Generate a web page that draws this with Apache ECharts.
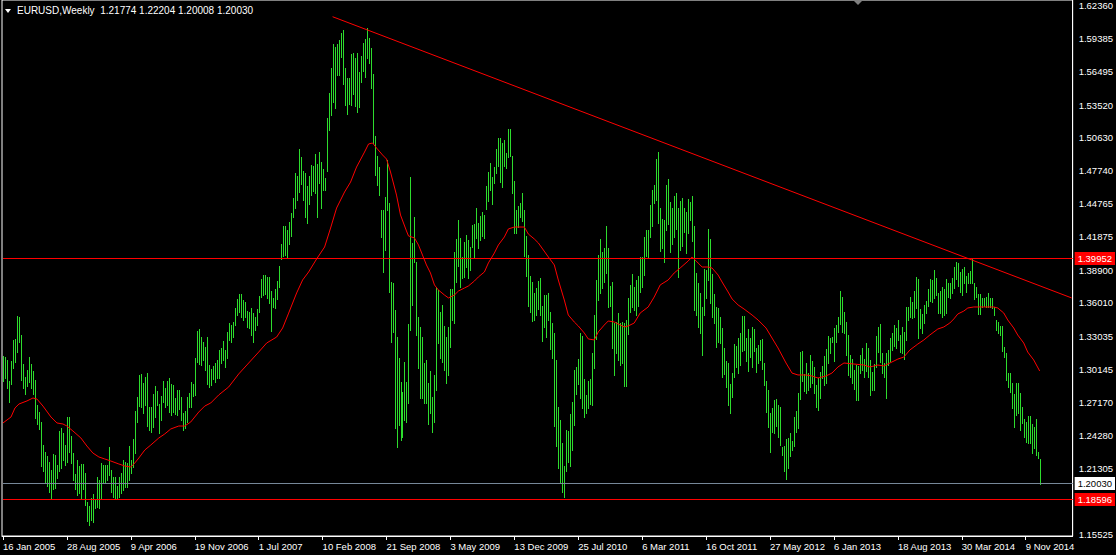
<!DOCTYPE html>
<html>
<head>
<meta charset="utf-8">
<script src="https://cdn.jsdelivr.net/npm/echarts@6/dist/echarts.min.js"></script>
<style>
html,body{margin:0;padding:0;background:#000;}
#c{width:1116px;height:555px;}
</style>
</head>
<body>
<div id="c"></div>
<script>
// ---- data (weekly EURUSD bars, index 0 = week of 16 Jan 2005) ----
const highs = [
1.3130,1.3121,1.3095,1.2909,1.3086,1.3272,1.3280,1.3484,1.3475,1.3316,
1.3059,1.2944,1.3006,1.3121,1.3059,1.2997,1.2917,1.2696,1.2634,1.2546,
1.2342,1.2280,1.2245,1.2191,1.2121,1.2262,1.2253,1.2165,1.2466,1.2493,
1.2448,1.2342,1.2590,1.2590,1.2422,1.2271,1.2085,1.2209,1.2156,1.2174,
1.2174,1.2094,1.1837,1.1802,1.1873,1.1908,1.1864,1.2059,1.2032,1.2183,
1.2165,1.2165,1.2165,1.2324,
1.2121,1.2059,1.2059,1.1979,1.2059,1.2094,1.2209,1.2191,1.2183,1.2333,
1.2209,1.2395,1.2643,1.2767,1.2962,1.2970,1.2891,1.2944,1.2979,1.2678,
1.2678,1.2794,1.2864,1.2820,1.2705,1.2776,1.2909,1.2847,1.2909,1.2935,
1.2882,1.2873,1.2758,1.2829,1.2829,1.2767,1.2625,1.2643,1.2767,1.2802,
1.2900,1.2882,1.3112,1.3351,1.3369,1.3298,1.3254,1.3210,1.3298,1.3050,
1.3015,1.3042,
1.3068,1.3095,1.3183,1.3201,1.3263,1.3183,1.3343,1.3422,1.3404,1.3431,
1.3555,1.3635,1.3679,1.3679,1.3626,1.3608,1.3528,1.3519,1.3555,1.3510,
1.3475,1.3546,1.3661,1.3812,1.3847,1.3847,1.3830,1.3830,1.3705,1.3644,
1.3723,1.3794,1.3927,1.4122,1.4281,1.4281,1.4246,1.4316,1.4396,1.4529,
1.4750,1.4724,1.4963,1.4892,1.4768,1.4750,1.4635,1.4724,1.4821,1.4812,
1.4918,1.4830,1.4936,
1.4848,1.4786,1.4706,1.5237,1.5459,1.5680,1.5892,1.5866,1.5892,1.5928,
1.5990,1.6016,1.5680,1.5591,1.5591,1.5804,1.5813,1.5769,1.5813,1.5645,
1.5786,1.5901,1.5937,1.6034,1.5946,1.5857,1.5627,1.5078,1.4901,1.4803,
1.4423,1.4423,1.4538,1.4865,1.4485,1.3785,1.3776,1.3537,1.3298,1.3112,
1.2900,1.2811,1.3077,1.2900,1.3413,1.4715,1.4130,1.4361,1.3962,1.3475,
1.3387,1.3298,1.3068,1.3095,
1.2891,1.2997,1.2767,1.2962,1.3741,1.3714,1.3519,1.3582,1.3396,1.3298,
1.3387,1.3723,1.3723,1.4051,1.4166,1.4334,1.4175,1.4007,1.4140,1.4202,
1.4157,1.4095,1.4290,1.4299,1.4440,1.4308,1.4370,1.4405,1.4379,1.4635,
1.4759,1.4839,1.4715,1.4803,1.4963,1.5060,1.5060,1.5016,1.5042,1.4927,
1.5140,1.5140,1.4901,1.4679,1.4423,1.4458,1.4485,1.4573,1.4423,1.4193,
1.4024,1.3838,1.3785,
1.3688,1.3732,1.3794,1.3821,1.3573,1.3670,1.3670,1.3688,1.3519,1.3422,
1.3334,1.3095,1.2678,1.2563,1.2360,1.2156,1.2475,1.2466,1.2616,1.2723,
1.3006,1.3033,1.3103,1.3334,1.3307,1.2926,1.2785,1.2909,1.2926,1.3157,
1.3493,1.3803,1.4024,1.4166,1.4051,1.4087,1.4281,1.4087,1.3750,1.3785,
1.3422,1.3431,1.3510,1.3422,1.3431,1.3422,1.3449,1.3644,1.3758,1.3856,
1.3741,1.3803,1.3838,
1.4007,1.4007,1.4184,1.4246,1.4246,1.4467,1.4600,1.4644,1.4874,1.4936,
1.4440,1.4343,1.4334,1.4644,1.4697,1.4493,1.4440,1.4547,1.4573,1.4440,
1.4502,1.4529,1.4440,1.4405,1.4520,1.4493,1.4547,1.4281,1.3865,1.3776,
1.3688,1.3564,1.3900,1.3891,1.4255,1.4166,1.3856,1.3679,1.3564,1.3555,
1.3475,1.3378,1.3201,1.3086,1.3068,1.2882,1.2979,1.3236,1.3219,1.3289,
1.3334,1.3484,
1.3484,1.3289,1.3369,1.3289,1.3387,1.3369,1.3201,1.3227,1.3272,1.3280,
1.3068,1.2909,1.2829,1.2625,1.2670,1.2740,1.2749,1.2696,1.2678,1.2324,
1.2333,1.2395,1.2404,1.2448,1.2378,1.2590,1.2643,1.2802,1.3165,1.3174,
1.2970,1.3068,1.2979,1.3139,1.3086,1.3033,1.2873,1.2935,1.2988,1.3042,
1.3130,1.3192,1.3307,1.3289,1.3298,1.3378,1.3404,1.3475,1.3705,1.3652,
1.3519,1.3431,1.3316,
1.3139,1.3103,1.3006,1.3050,1.3042,1.3139,1.3201,1.3103,1.3245,1.3201,
1.3095,1.2988,1.3059,1.3307,1.3387,1.3413,1.3157,1.3068,1.3157,1.3183,
1.3289,1.3334,1.3404,1.3378,1.3449,1.3316,1.3387,1.3343,1.3564,1.3564,
1.3653,1.3608,1.3705,1.3830,1.3812,1.3546,1.3502,1.3582,1.3617,1.3723,
1.3812,1.3803,1.3891,1.3821,1.3688,1.3705,1.3741,1.3723,1.3812,1.3776,
1.3776,1.3821,
1.3918,1.3962,1.3954,1.3874,1.3900,1.3918,1.3838,1.3865,1.3883,1.3993,
1.3776,1.3741,1.3679,1.3679,1.3644,1.3644,1.3653,1.3688,1.3644,1.3644,
1.3564,1.3449,1.3431,1.3396,1.3396,1.3210,1.3157,1.2979,1.2979,1.2891,
1.2794,1.2891,1.2891,1.2802,1.2678,1.2572,1.2546,1.2599,1.2599,1.2528,
1.2501,1.2572,1.2280,1.22204
];
const lows = [
1.2909,1.2935,1.2847,1.2723,1.2882,1.3024,1.3077,1.3165,1.3254,1.2917,
1.2847,1.2794,1.2864,1.2900,1.2847,1.2794,1.2581,1.2528,1.2484,1.2156,
1.2112,1.2006,1.1979,1.1926,1.1864,1.1952,1.1961,1.2050,1.2112,1.2138,
1.2209,1.2165,1.2191,1.2280,1.2183,1.2032,1.1952,1.1899,1.1917,1.1864,
1.1952,1.1811,1.1669,1.1634,1.1678,1.1660,1.1784,1.1793,1.1784,1.1864,
1.2015,1.2006,1.2032,1.2076,
1.1926,1.1882,1.1864,1.1864,1.1882,1.1917,1.1944,1.1970,1.1970,1.2032,
1.2094,1.2147,1.2271,1.2546,1.2687,1.2678,1.2625,1.2696,1.2510,1.2475,
1.2458,1.2501,1.2590,1.2696,1.2448,1.2563,1.2723,1.2678,1.2696,1.2634,
1.2607,1.2634,1.2616,1.2607,1.2660,1.2563,1.2475,1.2493,1.2546,1.2678,
1.2678,1.2776,1.2785,1.3077,1.3059,1.3050,1.3095,1.3006,1.2882,1.2856,
1.2873,1.2926,
1.2900,1.2935,1.2935,1.3068,1.3095,1.3033,1.3112,1.3272,1.3254,1.3298,
1.3404,1.3493,1.3519,1.3475,1.3449,1.3475,1.3387,1.3378,1.3316,1.3254,
1.3360,1.3404,1.3519,1.3653,1.3670,1.3679,1.3644,1.3599,1.3351,1.3564,
1.3555,1.3635,1.3741,1.3989,1.4015,1.4024,1.4007,1.4122,1.4193,1.4361,
1.4440,1.4511,1.4582,1.4653,1.4511,1.4361,1.4308,1.4476,1.4555,1.4591,
1.4573,1.4361,1.4662,
1.4440,1.4600,1.4600,1.4768,1.5131,1.5264,1.5379,1.5326,1.5618,1.5618,
1.5777,1.5538,1.5352,1.5273,1.5361,1.5352,1.5450,1.5344,1.5290,1.5335,
1.5556,1.5653,1.5600,1.5768,1.5724,1.5503,1.5016,1.4733,1.4644,1.4555,
1.4184,1.3874,1.4069,1.4423,1.3697,1.3254,1.3343,1.2493,1.2324,1.2519,
1.2386,1.2413,1.2563,1.2546,1.2714,1.3360,1.3581,1.3962,1.3316,1.3024,
1.2758,1.2758,1.2714,1.2714,
1.2528,1.2625,1.2458,1.2546,1.2829,1.3245,1.3112,1.3077,1.3006,1.2891,
1.2962,1.3210,1.3449,1.3422,1.3785,1.3927,1.3741,1.3821,1.3830,1.3918,
1.3821,1.3891,1.4095,1.3998,1.4175,1.4087,1.4157,1.4193,1.4175,1.4432,
1.4502,1.4600,1.4476,1.4662,1.4750,1.4812,1.4670,1.4626,1.4812,1.4795,
1.4892,1.4901,1.4573,1.4219,1.4219,1.4272,1.4361,1.4325,1.4015,1.3838,
1.3573,1.3519,1.3440,
1.3449,1.3493,1.3546,1.3493,1.3263,1.3387,1.3298,1.3449,1.3192,1.3112,
1.2510,1.2333,1.2138,1.2015,1.1926,1.1882,1.2112,1.2191,1.2156,1.2298,
1.2519,1.2794,1.2882,1.2758,1.2670,1.2590,1.2625,1.2670,1.2705,1.2696,
1.3024,1.3280,1.3626,1.3688,1.3732,1.3785,1.3865,1.3564,1.3573,1.3201,
1.2962,1.3157,1.3095,1.3050,1.3068,1.2864,1.2864,1.3325,1.3519,1.3564,
1.3537,1.3493,1.3573,
1.3697,1.3741,1.3847,1.4015,1.4007,1.4184,1.4281,1.4485,1.4511,1.4308,
1.4060,1.4087,1.3962,1.4246,1.4299,1.4051,1.4122,1.4184,1.4255,1.3830,
1.4069,1.4104,1.4228,1.4042,1.4219,1.4334,1.4148,1.3537,1.3493,1.3387,
1.3334,1.3139,1.3493,1.3643,1.3803,1.3599,1.3475,1.3422,1.3210,1.3254,
1.3245,1.2944,1.2970,1.2856,1.2696,1.2625,1.2767,1.2944,1.3033,1.2979,
1.3050,1.3174,
1.3183,1.3086,1.2997,1.3121,1.3033,1.3174,1.2988,1.3068,1.3095,1.3015,
1.2873,1.2634,1.2501,1.2280,1.2458,1.2448,1.2510,1.2413,1.2342,1.2253,
1.2112,1.2041,1.2138,1.2245,1.2298,1.2333,1.2458,1.2493,1.2749,1.2909,
1.2820,1.2802,1.2829,1.2856,1.2891,1.2802,1.2678,1.2652,1.2758,1.2935,
1.2873,1.2891,1.3068,1.3157,1.3254,1.3086,1.3254,1.3343,1.3413,1.3343,
1.3334,1.3139,1.2962,
1.2944,1.2891,1.2838,1.2740,1.2740,1.2979,1.3006,1.2944,1.2997,1.2944,
1.2785,1.2829,1.2829,1.3033,1.3165,1.3077,1.2979,1.2944,1.2758,1.3050,
1.3086,1.3183,1.3219,1.3201,1.3272,1.3165,1.3157,1.3103,1.3272,1.3449,
1.3475,1.3466,1.3475,1.3555,1.3289,1.3378,1.3334,1.3422,1.3510,1.3573,
1.3617,1.3608,1.3644,1.3670,1.3510,1.3510,1.3475,1.3493,1.3510,1.3653,
1.3644,1.3688,
1.3732,1.3812,1.3750,1.3697,1.3670,1.3776,1.3697,1.3776,1.3776,1.3776,
1.3635,1.3653,1.3502,1.3502,1.3564,1.3573,1.3564,1.3564,1.3564,1.3555,
1.3493,1.3360,1.3334,1.3316,1.3174,1.3121,1.2917,1.2856,1.2811,1.2670,
1.2501,1.2607,1.2625,1.2475,1.2537,1.2413,1.2368,1.2360,1.2360,1.2271,
1.2316,1.2253,1.2227,1.20008
];
// moving average read at sampled bars
const maBars = [0,4,6,8,12,15,17,20,24,27,30,32,35,39,42,45,48,51,54,58,61,64,66,68,71,74,78,81,84,88,91,94,98,101,104,108,113,118,123,128,132,137,140,143,147,150,153,157,161,164,167,171,174,177,181,183,185,187,190,192,194,197,199,202,203,206,208,210,212,214,216,218,221,223,226,228,231,233,236,238,241,243,246,248,251,253,256,258,261,263,266,268,273,276,278,281,283,286,288,291,293,296,298,301,303,306,308,311,313,316,319,323,326,329,333,336,339,343,345,348,350,353,355,358,360,363,365,368,371,375,378,382,385,388,392,395,398,402,405,408,412,415,418,421,426,431,434,438,441,444,448,451,454,458,461,464,468,471,474,476,478,481,483,486,491,496,498,501,503,506,508,511,513,516,519];
const maValues = [1.2537,1.2590,1.2670,1.2705,1.2732,1.2758,1.2749,1.2687,1.2590,1.2537,1.2528,1.2510,1.2466,1.2404,1.2333,1.2271,1.2236,1.2218,1.2200,1.2174,1.2156,1.2147,1.2183,1.2227,1.2298,1.2342,1.2404,1.2440,1.2484,1.2510,1.2510,1.2546,1.2634,1.2687,1.2714,1.2785,1.2856,1.2971,1.3068,1.3165,1.3245,1.3298,1.3378,1.3510,1.3688,1.3803,1.3874,1.3989,1.4095,1.4263,1.4440,1.4582,1.4670,1.4803,1.4936,1.5007,1.5016,1.4972,1.4910,1.4874,1.4759,1.4555,1.4378,1.4237,1.4193,1.4175,1.4113,1.4024,1.3936,1.3865,1.3759,1.3714,1.3670,1.3644,1.3670,1.3705,1.3732,1.3750,1.3794,1.3830,1.3874,1.3954,1.4042,1.4113,1.4184,1.4255,1.4272,1.4272,1.4272,1.4210,1.4166,1.4131,1.4007,1.3936,1.3803,1.3626,1.3493,1.3431,1.3396,1.3334,1.3281,1.3272,1.3343,1.3404,1.3440,1.3431,1.3413,1.3387,1.3396,1.3422,1.3511,1.3564,1.3652,1.3759,1.3803,1.3865,1.3909,1.3971,1.4007,1.3953,1.3918,1.3918,1.3909,1.3847,1.3785,1.3697,1.3635,1.3582,1.3546,1.3493,1.3449,1.3378,1.3289,1.3201,1.3068,1.2979,1.2962,1.2962,1.2953,1.2935,1.2953,1.2979,1.3033,1.3068,1.3059,1.3050,1.3033,1.3050,1.3042,1.3068,1.3103,1.3121,1.3183,1.3236,1.3272,1.3316,1.3369,1.3387,1.3422,1.3458,1.3502,1.3528,1.3555,1.3564,1.3564,1.3564,1.3555,1.3511,1.3449,1.3378,1.3316,1.3245,1.3165,1.3095,1.2997];
const dateLabels = ["16 Jan 2005","28 Aug 2005","9 Apr 2006","19 Nov 2006","1 Jul 2007","10 Feb 2008","21 Sep 2008","3 May 2009","13 Dec 2009","25 Jul 2010","6 Mar 2011","16 Oct 2011","27 May 2012","6 Jan 2013","18 Aug 2013","30 Mar 2014","9 Nov 2014"];
const priceTicks = [1.62360,1.59385,1.56495,1.53520,1.50630,1.47740,1.44765,1.41875,1.38900,1.36010,1.33035,1.30145,1.27170,1.24280,1.21305,1.15525];
const trendStart = [165, 1.6134];
const trendEnd = [535, 1.3644];
const levelValues = [1.39952, 1.20030, 1.18596];
const levelLineColors = ['#ff0000', '#778899', '#ff0000'];
const levelBoxColors = ['#ff0000', '#ffffff', '#ff0000'];
const levelTextColors = ['#ffffff', '#000000', '#ffffff'];
const titleText = 'EURUSD,Weekly  1.21774 1.22204 1.20008 1.20030';

// ---- chart ----
const slotCount = 536;           // bars plus right shift space
const labelStep = 32;
const barColor = '#2ddc2d';
const FONT = 'Liberation Sans';
const categories = Array.from({length: slotCount}, (_, i) => String(i));
const barData = highs.map((h, i) => [i, h, lows[i]]);
const maData = maBars.map((b, i) => [b, maValues[i]]);
const levelData = levelValues.map((v, i) => [0, v, i]);

const chart = echarts.init(document.getElementById('c'), null, {renderer: 'svg'});
chart.setOption({
  backgroundColor: '#000000',
  animation: false,
  title: {
    text: titleText, left: 17, top: 5, padding: 0,
    textStyle: {color: '#ffffff', fontSize: 10, fontWeight: 'normal', fontFamily: FONT}
  },
  graphic: [
    {type: 'polygon', shape: {points: [[5, 9], [11, 9], [8, 13]]}, style: {fill: '#ffffff'}},
    {type: 'polygon', shape: {points: [[854, 1], [862, 1], [858, 5]]}, style: {fill: '#808080'}}
  ],
  grid: {left: 2, top: 0, width: slotCount * 2, height: 536, show: true, borderColor: '#ffffff', borderWidth: 1, backgroundColor: 'transparent'},
  xAxis: {
    type: 'category', data: categories, boundaryGap: true,
    axisLine: {show: true, lineStyle: {color: '#ffffff', width: 1}},
    axisTick: {show: true, interval: labelStep - 1, alignWithLabel: true, length: 4, lineStyle: {color: '#ffffff'}},
    axisLabel: {
      interval: labelStep - 1, align: 'left', margin: 5, color: '#ffffff', fontSize: 9.5, fontFamily: FONT,
      formatter: (v) => { const k = Number(v) / labelStep; return Number.isInteger(k) && dateLabels[k] ? dateLabels[k] : ''; }
    },
    splitLine: {show: false}
  },
  yAxis: {
    type: 'value', position: 'right', min: 1.15363, max: 1.6282, scale: true,
    splitLine: {show: false},
    axisLine: {show: true, lineStyle: {color: '#ffffff', width: 1}},
    axisTick: {show: false},
    axisLabel: {customValues: priceTicks, formatter: v => v.toFixed(5), color: '#ffffff', fontSize: 9.5, fontFamily: FONT, margin: 6}
  },
  series: [
    {
      type: 'custom', name: 'bars', data: barData, encode: {x: 0, y: [1, 2]},
      renderItem: (params, api) => {
        const top = api.coord([api.value(0), api.value(1)]);
        const bot = api.coord([api.value(0), api.value(2)]);
        const x = Math.round(top[0]) + 0.5;
        return {type: 'line', shape: {x1: x, y1: Math.round(top[1]), x2: x, y2: Math.round(bot[1]) + 1},
                style: {stroke: barColor, lineWidth: 1}};
      },
      z: 2
    },
    {
      type: 'custom', name: 'levels', data: levelData, encode: {y: 1}, clip: false, z: 4,
      renderItem: (params, api) => {
        const cs = params.coordSys;
        const idx = api.value(2);
        const v = api.value(1);
        const y = Math.floor(api.coord([0, v])[1]) + 0.5;
        return {
          type: 'group',
          children: [
            {type: 'line', shape: {x1: cs.x + 1, y1: y, x2: cs.x + cs.width, y2: y},
             style: {stroke: levelLineColors[idx], lineWidth: 1}},
            {type: 'text', x: cs.x + cs.width + 2, y: y,
             style: {text: v.toFixed(5), fill: levelTextColors[idx], backgroundColor: levelBoxColors[idx],
                     padding: [2, 3, 1, 3], verticalAlign: 'middle', align: 'left',
                     font: '9.5px "Liberation Sans"'}}
          ]
        };
      }
    },
    {
      type: 'line', name: 'MA', data: maData, symbol: 'none', smooth: false,
      lineStyle: {color: '#ff0000', width: 1}, z: 3,
      markLine: {
        silent: true, symbol: ['none', 'none'], animation: false, precision: 5,
        data: [
          [
            {coord: [trendStart[0], trendStart[1]], lineStyle: {color: '#ff0000', width: 1, type: 'solid'}, label: {show: false}},
            {coord: [trendEnd[0], trendEnd[1]]}
          ]
        ]
      }
    }
  ]
});
</script>
</body>
</html>
